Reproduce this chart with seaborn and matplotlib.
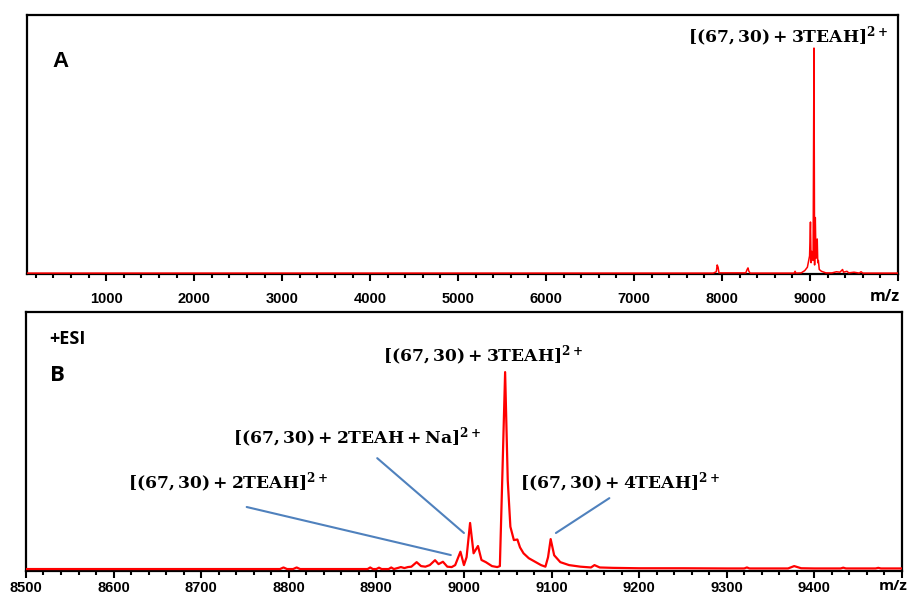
import matplotlib
matplotlib.use("Agg")
import matplotlib.pyplot as plt
import seaborn as sns
from matplotlib.ticker import MultipleLocator

# panel A: full m/z scan (relative intensity)
mz_full = [100, 7900, 7935, 7945, 7955, 7965, 8270, 8285, 8295, 8305,
           8320, 8820, 8830, 8840, 8900, 8940, 8970, 8985, 8995, 9005,
           9012, 9020, 9035, 9045, 9052, 9060, 9068, 9075, 9082, 9088,
           9095, 9105, 9130, 9180, 9250, 9300, 9340, 9370, 9380, 9420,
           9440, 9500, 9560, 9580, 9600, 10000]
int_full = [0.004, 0.004, 0.01, 0.04, 0.03, 0.005, 0.005, 0.02, 0.027, 0.012,
            0.004, 0.004, 0.012, 0.004, 0.005, 0.015, 0.03, 0.06, 0.08, 0.23,
            0.05, 0.1, 0.06, 1.0, 0.04, 0.25, 0.07, 0.12, 0.155, 0.05,
            0.06, 0.02, 0.012, 0.005, 0.005, 0.01, 0.008, 0.02, 0.008, 0.012,
            0.005, 0.008, 0.004, 0.01, 0.004, 0.004]

# panel B: zoom on the 2+ region
mz_zoom = [8500, 8790, 8794, 8798, 8805, 8809, 8813, 8890, 8893, 8896,
           8900, 8903, 8906, 8914, 8917, 8920, 8925, 8928, 8932, 8936,
           8940, 8946, 8951, 8956, 8961, 8967, 8971, 8976, 8981, 8986,
           8990, 8996, 9000, 9003, 9007, 9011, 9016, 9020, 9025, 9032,
           9038, 9041, 9044, 9047, 9050, 9053, 9057, 9061, 9064, 9068,
           9074, 9080, 9088, 9093, 9096, 9099, 9103, 9110, 9120, 9133,
           9145, 9149, 9155, 9170, 9200, 9250, 9300, 9320, 9323, 9326,
           9370, 9377, 9385, 9400, 9430, 9433, 9436, 9470, 9473, 9476,
           9500]
int_zoom = [0, 0, 0.008, 0, 0, 0.008, 0, 0, 0.008, 0,
            0, 0.007, 0, 0, 0.008, 0, 0.006, 0.01, 0.005, 0.01,
            0.012, 0.035, 0.015, 0.012, 0.02, 0.045, 0.025, 0.037, 0.012, 0.01,
            0.02, 0.088, 0.02, 0.06, 0.234, 0.08, 0.117, 0.046, 0.035, 0.015,
            0.01, 0.015, 0.5, 1.0, 0.45, 0.215, 0.147, 0.15, 0.11, 0.08,
            0.055, 0.04, 0.02, 0.012, 0.06, 0.152, 0.07, 0.035, 0.02, 0.012,
            0.008, 0.02, 0.008, 0.006, 0.004, 0.004, 0.003, 0.003, 0.008, 0.003,
            0.003, 0.015, 0.004, 0.003, 0.003, 0.007, 0.003, 0.003, 0.006, 0.003,
            0.003]

ion_3teah = r"$\mathbf{[(67,30)\:+\:3TEAH]^{2+}}$"
ion_2teah_na = r"$\mathbf{[(67,30)\:+\:2TEAH\:+\:Na]^{2+}}$"
ion_2teah = r"$\mathbf{[(67,30)\:+\:2TEAH]^{2+}}$"
ion_4teah = r"$\mathbf{[(67,30)\:+\:4TEAH]^{2+}}$"

sns.set_style("white")
plt.rcParams["font.family"] = ["Liberation Sans", "DejaVu Sans"]
plt.rcParams["text.color"] = "black"
plt.rcParams["xtick.color"] = "black"
plt.rcParams["mathtext.fontset"] = "custom"
plt.rcParams["mathtext.rm"] = "DejaVu Serif"
plt.rcParams["mathtext.bf"] = "DejaVu Serif:bold"

fig = plt.figure(figsize=(9.14, 5.94), dpi=100)
ax_a = fig.add_axes([0.0295, 0.5387, 0.953, 0.436])
ax_b = fig.add_axes([0.0284, 0.0387, 0.9584, 0.436])

sns.lineplot(x=mz_full, y=int_full, ax=ax_a, color="#ff0000", lw=1.1,
             estimator=None, zorder=3)
sns.lineplot(x=mz_zoom, y=int_zoom, ax=ax_b, color="#ff0000", lw=1.6,
             estimator=None, zorder=3)

for ax, lo, hi, ymin, ymax, major, minor, pad in (
        (ax_a, 100, 10000, 0, 1.146, 1000, 200, 8),
        (ax_b, 8500, 9500, -0.01, 1.305, 100, 20, 2.5)):
    ax.set_xlim(lo, hi)
    ax.set_ylim(ymin, ymax)
    ax.xaxis.set_major_locator(MultipleLocator(major))
    ax.xaxis.set_minor_locator(MultipleLocator(minor))
    ax.set_yticks([])
    ax.tick_params(axis="x", which="major", length=5, width=1.5, direction="out",
                   bottom=True, pad=pad, labelsize=10.5)
    ax.tick_params(axis="x", which="minor", length=3, width=1.5, direction="out",
                   bottom=True)
    for s in ax.spines.values():
        s.set_linewidth(1.6)
        s.set_color("black")
    ax.set(xlabel="", ylabel="")
    ticks = ax.get_xticks()
    ax.set_xticks(ticks)
    ax.set_xticklabels([f"{int(v)}" if major <= v < hi else "" for v in ticks],
                       fontweight="bold")
    ax.set_xlim(lo, hi)

ax_a.text(0.985, -0.09, "m/z", transform=ax_a.transAxes, ha="center", va="center",
          fontsize=11.5, fontweight="bold", family="Open Sans")
ax_b.text(0.99, -0.058, "m/z", transform=ax_b.transAxes, ha="center", va="center",
          fontsize=11, fontweight="bold", family="Open Sans")

ax_a.text(0.038, 0.82, "A", transform=ax_a.transAxes, ha="center", va="center",
          fontsize=16, fontweight="bold")
ax_b.text(0.047, 0.896, "+ESI", transform=ax_b.transAxes, ha="center", va="center",
          fontsize=13, fontweight="bold", family="Open Sans")
ax_b.text(0.0365, 0.753, "B", transform=ax_b.transAxes, ha="center", va="center",
          fontsize=16, fontweight="bold", family="Open Sans")

lab_kw = dict(ha="center", va="center", fontsize=12.3)
ax_a.text(8750, 1.049, ion_3teah, **lab_kw)
ax_b.text(9022, 1.081, ion_3teah, **lab_kw)
ax_b.text(8878, 0.665, ion_2teah_na, **lab_kw)
ax_b.text(8731, 0.437, ion_2teah, **lab_kw)
ax_b.text(9178, 0.437, ion_4teah, **lab_kw)

line_kw = dict(color="#4f81bd", lw=1.5)
ax_b.plot([8752, 8985], [0.315, 0.071], **line_kw)
ax_b.plot([8901, 9000], [0.563, 0.183], **line_kw)
ax_b.plot([9166, 9105], [0.36, 0.183], **line_kw)

fig.savefig("out.png", dpi=100)
